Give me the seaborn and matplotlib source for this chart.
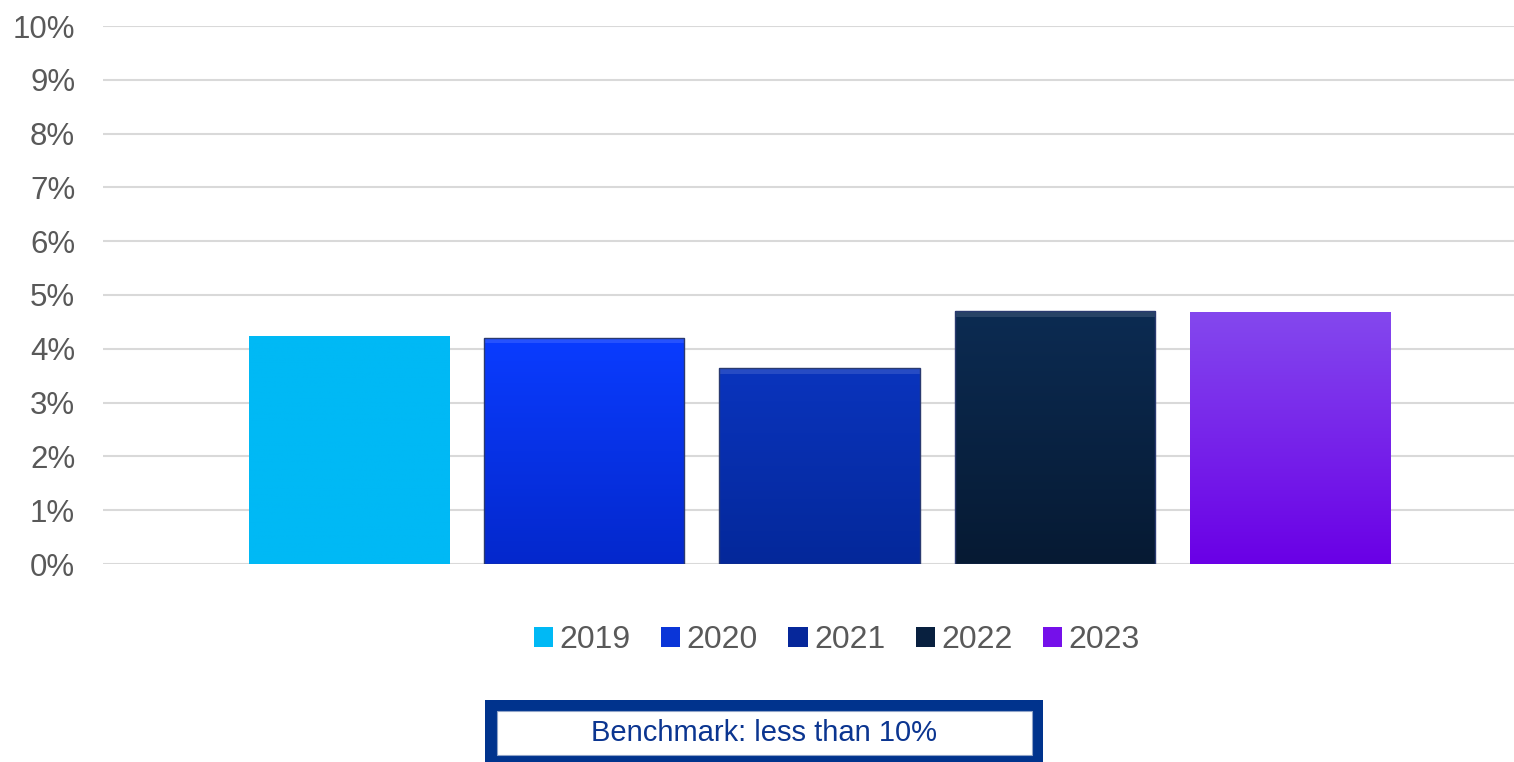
import numpy as np
import matplotlib
matplotlib.use("Agg")
import matplotlib.pyplot as plt
import seaborn as sns
from matplotlib.patches import Patch, Rectangle
from matplotlib.colors import LinearSegmentedColormap

years = ["2019", "2020", "2021", "2022", "2023"]
values = [4.24, 4.20, 3.64, 4.70, 4.68]
tick_values = [0, 1, 2, 3, 4, 5, 6, 7, 8, 9, 10]
tick_labels = [f"{v}%" for v in tick_values]
benchmark_text = "Benchmark: less than 10%"

top_colors = ["#00b9f5", "#0a3cff", "#0a34bd", "#0c2b52", "#8448ee"]
bot_colors = ["#00b9f5", "#0428cc", "#04289a", "#061a33", "#6a00e6"]
legend_colors = ["#00b9f5", "#0a35d8", "#06279a", "#08203f", "#7510ea"]

sns.set_theme(style="white")
plt.rcParams['font.family'] = ['Liberation Sans', 'DejaVu Sans']

W, H = 1514, 762
fig = plt.figure(figsize=(W / 100, H / 100), dpi=100)
ax = fig.add_axes([103 / W, 1 - 564 / H, (1514 - 103) / W, (564 - 26) / H])

sns.barplot(x=years, y=values, hue=years, palette=top_colors, width=0.851,
            legend=False, ax=ax, saturation=1, edgecolor="none", zorder=3)

ax.set_ylim(0, 10)
ax.set_xlim(-1.047, 4.953)
ax.set_yticks(tick_values)
ax.set_yticklabels(tick_labels, fontsize=22.5, color="#595959")
ax.set_xticks([])
ax.set_xlabel("")
ax.set_ylabel("")
ax.tick_params(axis="y", length=0, pad=20)
ax.grid(axis="y", color="#d9d9d9", linewidth=1.5, zorder=0)
ax.set_axisbelow(True)
for s in ax.spines.values():
    s.set_visible(False)

# gradient fills clipped to bars
for i, p in enumerate(ax.patches):
    x0, y0 = p.get_x(), p.get_y()
    w, h = p.get_width(), p.get_height()
    cmap = LinearSegmentedColormap.from_list(f"g{i}", [bot_colors[i], top_colors[i]])
    grad = np.linspace(0, 1, 256).reshape(-1, 1)
    im = ax.imshow(grad, cmap=cmap, aspect="auto", origin="lower",
                   extent=[x0, x0 + w, y0, y0 + h], zorder=4)
    im.set_clip_path(p)
    if 1 <= i <= 3:
        # subtle bevel highlight at top and edge outline
        ax.add_patch(Rectangle((x0, y0 + h - 0.1), w, 0.1, facecolor="white",
                               alpha=0.12, edgecolor="none", zorder=5))
        ax.add_patch(Rectangle((x0, y0), w, h, facecolor="none",
                               edgecolor="#2a3a70", linewidth=1.0, zorder=6))
ax.set_xlim(-1.047, 4.953)
ax.set_ylim(0, 10)

handles = [Patch(facecolor=c, edgecolor="none") for c in legend_colors]
fig.legend(handles, years, loc="center", bbox_to_anchor=(837 / W, 1 - 640 / H),
           ncol=5, frameon=False, fontsize=23, labelcolor="#595959",
           handlelength=0.6, handleheight=0.6, handletextpad=0.2, columnspacing=0.95)

# benchmark box
fig.patches.append(Rectangle((485 / W, 0), (1043 - 485) / W, (762 - 700) / H,
                             transform=fig.transFigure, facecolor="#00338d",
                             edgecolor="none", zorder=1))
fig.patches.append(Rectangle((497 / W, 1 - 755 / H), (1032 - 497) / W, (755 - 711) / H,
                             transform=fig.transFigure, facecolor="white",
                             edgecolor="#8fa3c8", linewidth=0.8, zorder=2))
fig.text(764 / W, 1 - 733 / H, benchmark_text, ha="center", va="center",
         fontsize=21, color="#0b3590", zorder=3)

fig.savefig("out.png", dpi=100)
